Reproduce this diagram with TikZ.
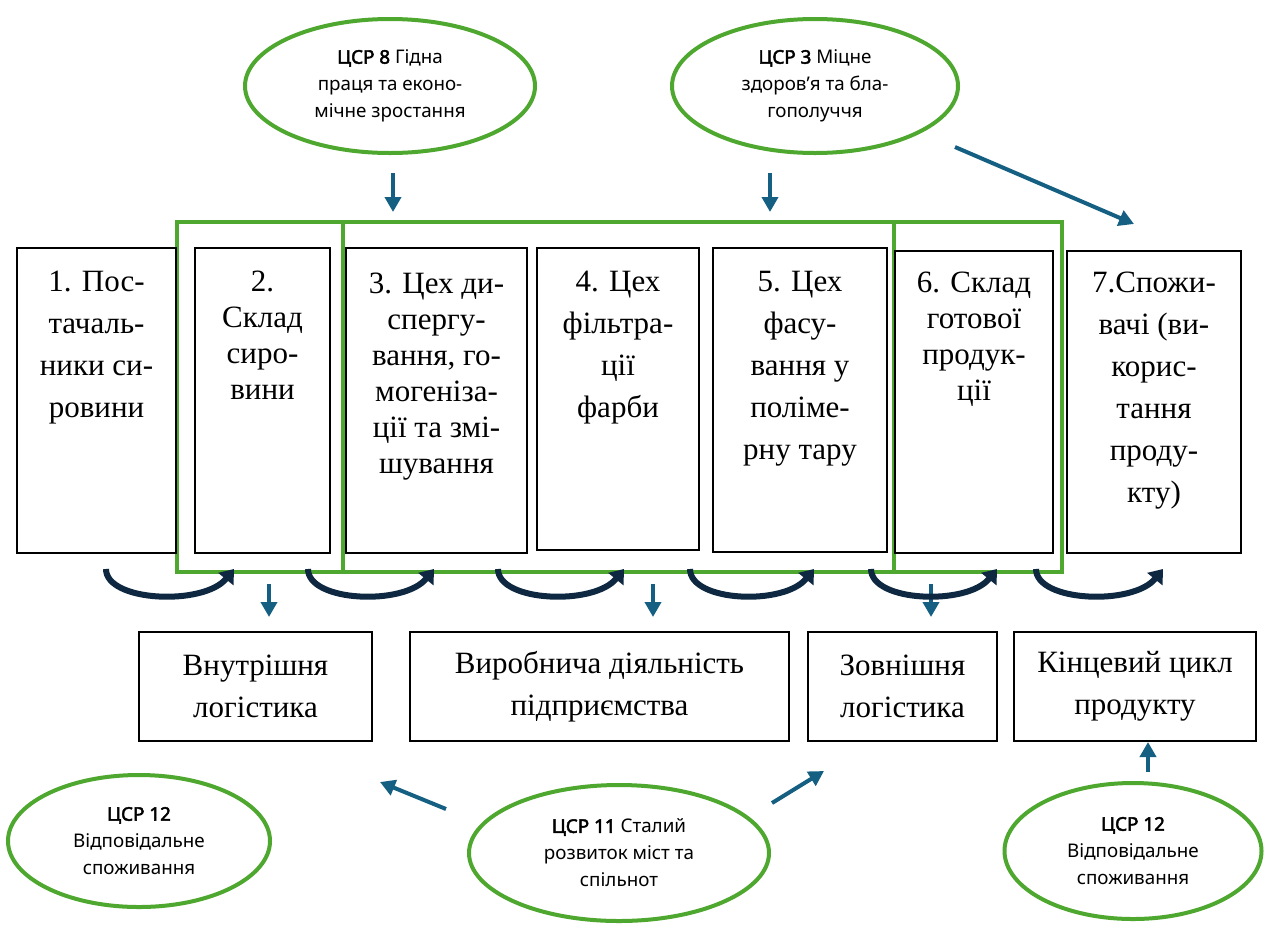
\documentclass[tikz,border=0pt]{standalone}
\usepackage{fontspec}
\setmainfont{Liberation Serif}
\newfontfamily\ellfont{Noto Sans}[AutoFakeBold=2.5]
\usetikzlibrary{arrows.meta,shapes.geometric}
\definecolor{grn}{HTML}{4EA72E}
\definecolor{blu}{HTML}{156082}
\definecolor{nav}{HTML}{0E2841}
\begin{document}
\begin{tikzpicture}[x=1pt,y=-1pt,
  boxst/.style={draw=black, line width=2pt, inner sep=0pt, outer sep=0pt, anchor=north west},
  wide/.style={font=\fontsize{31}{42}\selectfont, align=center, inner sep=0pt, anchor=north},
  tight/.style={font=\fontsize{31}{36}\selectfont, align=center, inner sep=0pt, anchor=north},
  lowbox/.style={draw=black, line width=1.5pt, minimum height=109pt, inner sep=0pt, align=center, font=\fontsize{31}{42}\selectfont},
  frame/.style={draw=grn, line width=4pt, inner sep=0pt, outer sep=0pt, anchor=north west},
  ell/.style={ellipse, draw=grn, line width=4pt, inner sep=0pt, align=center, font=\ellfont\fontsize{18.8}{27}\selectfont},
  bar/.style={draw=blu, line width=4pt, -{Triangle[width=16pt,length=15pt]}},
  curv/.style={draw=nav, line width=6pt, -{Triangle[width=19pt,length=13pt]}}
]
\useasboundingbox (0,0) rectangle (1273,924);
\fill[white] (0,0) rectangle (1273,924);

% green frames
\node[frame, minimum width=166pt, minimum height=350pt] (g1) at (177,222) {};
\node[frame, minimum width=551pt, minimum height=350pt] (g2) at (343,222) {};
\node[frame, minimum width=168pt, minimum height=350pt] (g3) at (894,222) {};

% process boxes
\node[boxst, minimum width=159pt, minimum height=305pt] (b1) at (17,248) {};
\node[boxst, minimum width=135pt, minimum height=305pt] (b2) at (195,248) {};
\node[boxst, minimum width=181pt, minimum height=305pt] (b3) at (346,248) {};
\node[boxst, minimum width=162pt, minimum height=302pt] (b4) at (537,248) {};
\node[boxst, minimum width=174pt, minimum height=304pt] (b5) at (713,248) {};
\node[boxst, minimum width=158pt, minimum height=302pt] (b6) at (895,251) {};
\node[boxst, minimum width=174pt, minimum height=302pt] (b7) at (1067,251) {};

\node[wide]  (t1) at ([yshift=-23pt]b1.north) {1. Пос-\\тачаль-\\ники си-\\ровини};
\node[tight] (t2) at ([yshift=-23pt]b2.north) {2.\\Склад\\сиро-\\вини};
\node[tight] (t3) at ([yshift=-25pt]b3.north) {3. Цех ди-\\спергу-\\вання, го-\\могеніза-\\ції та змі-\\шування};
\node[wide]  (t4) at ([yshift=-23pt]b4.north) {4. Цех\\фільтра-\\ції\\фарби};
\node[wide]  (t5) at ([yshift=-23pt]b5.north) {5. Цех\\фасу-\\вання у\\поліме-\\рну тару};
\node[tight] (t6) at ([yshift=-21pt]b6.north) {6. Склад\\готової\\продук-\\ції};
\node[wide]  (t7) at ([yshift=-21pt]b7.north) {7.Спожи-\\вачі (ви-\\корис-\\тання\\проду-\\кту)};

% lower boxes
\node[lowbox, minimum width=233pt] (l1) at (255.5,686.5) {Внутрішня\\логістика};
\node[lowbox, minimum width=379pt] (l2) at (599.5,686.5) {Виробнича діяльність\\підприємства};
\node[lowbox, minimum width=189pt] (l3) at (902.5,686.5) {Зовнішня\\логістика};
\node[lowbox, minimum width=242pt] (l4) at (1135,686.5) {Кінцевий цикл\\продукту};

% ellipses
\node[ell, minimum width=290pt, minimum height=134pt] (e1) at (390,86) {\textbf{ЦСР 8} Гідна\\праця та еконо-\\мічне зростання};
\node[ell, minimum width=286pt, minimum height=134pt] (e2) at (815,86) {\textbf{ЦСР 3} Міцне\\здоров’я та бла-\\гополуччя};
\node[ell, minimum width=262pt, minimum height=132pt] (e3) at (139,841) {\textbf{ЦСР 12}\\Відповідальне\\споживання};
\node[ell, minimum width=300pt, minimum height=136pt] (e4) at (619,853) {\textbf{ЦСР 11} Сталий\\розвиток міст та\\спільнот};
\node[ell, minimum width=257pt, minimum height=136pt] (e5) at (1133,851) {\textbf{ЦСР 12}\\Відповідальне\\споживання};

% blue arrows
\coordinate (a1s) at (393,173); \coordinate (a1e) at (393,212);
\coordinate (a2s) at (770,173); \coordinate (a2e) at (770,212);
\coordinate (a3s) at (955,147); \coordinate (a3e) at (1134,224);
\coordinate (a4s) at (269,584); \coordinate (a4e) at (269,617);
\coordinate (a5s) at (653,584); \coordinate (a5e) at (653,617);
\coordinate (a6s) at (931,584); \coordinate (a6e) at (931,617);
\coordinate (a7s) at (446,809); \coordinate (a7e) at (380,782);
\coordinate (a8s) at (772,803); \coordinate (a8e) at (824,771);
\coordinate (a9s) at (1148,772); \coordinate (a9e) at (1148,742);
\foreach \i in {1,...,9} {\draw[bar] (a\i s) -- (a\i e);}

% curved flow arrows
\foreach \n/\sx/\ex in {1/106/234, 2/308/434, 3/498/624, 4/690/814, 5/871/997, 6/1036/1163} {
  \coordinate (c\n s) at (\sx,569);
  \coordinate (c\n e) at (\ex,569);
  \draw[curv] (c\n s) .. controls ([yshift=-33pt]c\n s) and ([xshift=-30pt,yshift=-37pt]c\n e) .. (c\n e);
}
\end{tikzpicture}
\end{document}
